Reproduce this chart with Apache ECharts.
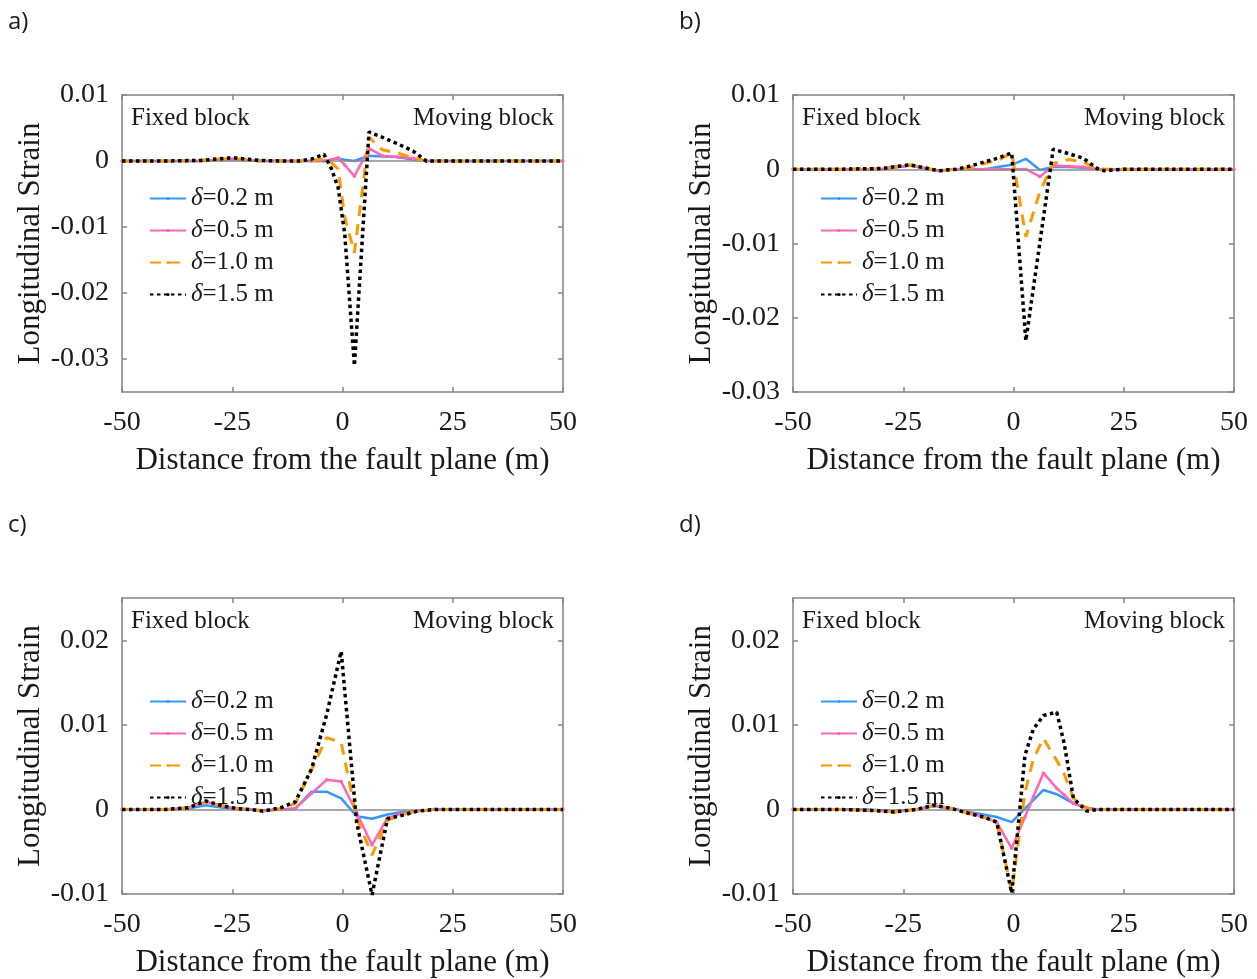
<!DOCTYPE html>
<html>
<head>
<meta charset="utf-8">
<script src="https://cdn.jsdelivr.net/npm/echarts@6/dist/echarts.min.js"></script>
<style>
  html, body { margin: 0; padding: 0; background: #fff; }
  #mychart { width: 1257px; height: 979px; }
</style>
</head>
<body>
<div id="mychart"></div>
<script>
"use strict";
// legend names, one per prescribed fault offset
const offsets = ['δ=0.2 m', 'δ=0.5 m', 'δ=1.0 m', 'δ=1.5 m'];
const xTicks = [-50, -25, 0, 25, 50];

// a) distance (m) and longitudinal strain
const distA = [-50, -40, -32, -25, -19, -14, -10, -7, -4.2, -2.5, -1, 0.5, 2.7, 6, 9, 12.5, 16, 19, 25, 35, 50];
const blueA = [0, 0, 0, 0.0002, 0, 0, 0, 0, 0, 0.0002, 0.0004, 0.0002, 0, 0.0008, 0.0007, 0.0006, 0.0002, 0, 0, 0, 0];
const pinkA = [0, 0, 0, 0.0003, 0, 0, 0, 0, 0, 0.0002, 0.0005, -0.0006, -0.0023, 0.0019, 0.0008, 0.0006, 0.0004, 0, 0, 0, 0];
const orangeA = [0, 0, 0.0001, 0.0004, 0.0001, 0, 0, 0.0001, 0.0003, -0.0003, -0.0012, -0.0085, -0.0139, 0.0036, 0.0017, 0.0012, 0.0005, 0, 0, 0, 0];
const blackA = [0, 0, 0.0001, 0.0005, 0.0001, 0, 0, 0.0003, 0.001, -0.0012, -0.004, -0.011, -0.031, 0.0044, 0.0036, 0.0026, 0.0015, 0, 0, 0, 0];

// b)
const distB = [-50, -40, -30, -23.5, -17, -13, -10, -6.5, -3.5, -0.4, 2.8, 6, 9, 12.5, 15.8, 19, 20.5, 25, 35, 50];
const blueB = [0, 0, 0, 0.0005, -0.0002, 0, 0, 0, 0.0003, 0.0006, 0.0014, -0.0001, 0.0003, 0.0003, 0.0002, 0, 0, 0, 0, 0];
const pinkB = [0, 0, 0, 0.0005, -0.0002, 0, 0, 0, 0, 0, 0, -0.001, 0.0005, 0.0004, 0.0003, 0, 0, 0, 0, 0];
const orangeB = [0, 0, 0.0001, 0.0006, -0.0002, 0, 0.0002, 0.0008, 0.0012, 0.0022, -0.0091, -0.003, 0.0008, 0.0013, 0.001, 0, 0, 0, 0, 0];
const blackB = [0, 0, 0.0001, 0.0006, -0.0002, 0, 0.0004, 0.001, 0.0015, 0.0022, -0.0231, -0.0098, 0.0027, 0.0021, 0.0015, 0.0001, -0.0002, 0, 0, 0];

// c)
const distC = [-50, -40, -35, -31, -27, -24, -21, -18, -14, -10.7, -7, -3.6, -0.3, 3.2, 6.7, 10.2, 13.5, 17, 21, 30, 40, 50];
const blueC = [0, 0, 0.0001, 0.0005, 0.0002, 0.0001, 0, -0.0001, 0, 0.0001, 0.0021, 0.0021, 0.0013, -0.0008, -0.0011, -0.0006, -0.0003, -0.0002, 0, 0, 0, 0];
const pinkC = [0, 0, 0.0002, 0.0009, 0.0004, 0.0001, 0, -0.0002, 0, 0.0001, 0.0019, 0.0035, 0.0033, -0.0004, -0.0042, -0.001, -0.0005, -0.0002, 0, 0, 0, 0];
const orangeC = [0, 0, 0.0002, 0.0009, 0.0004, 0.0001, 0, -0.0002, 0.0001, 0.0007, 0.0047, 0.0085, 0.0079, -0.001, -0.0054, -0.0013, -0.0006, -0.0002, 0, 0, 0, 0];
const blackC = [0, 0, 0.0002, 0.001, 0.0004, 0.0001, 0, -0.0002, 0.0002, 0.0009, 0.0048, 0.0112, 0.0187, -0.0015, -0.0101, -0.0011, -0.0007, -0.0002, 0, 0, 0, 0];

// d)
const distD = [-50, -40, -33, -27, -22, -18, -14, -10, -6.8, -3.8, -0.4, 2.6, 4.5, 6.8, 9.8, 11.5, 13.6, 16.6, 19, 25, 35, 50];
const blueD = [0, 0, 0, -0.0002, 0, 0.0004, 0.0001, -0.0003, -0.0006, -0.0009, -0.0015, 0.0001, 0.0011, 0.0023, 0.0018, 0.0013, 0.0007, 0.0002, 0, 0, 0, 0];
const pinkD = [0, 0, -0.0001, -0.0003, 0, 0.0005, 0.0001, -0.0004, -0.0009, -0.0015, -0.0046, -0.0009, 0.0015, 0.0043, 0.0025, 0.0017, 0.0007, 0.0002, 0, 0, 0, 0];
const orangeD = [0, 0, -0.0001, -0.0003, 0, 0.0005, 0.0001, -0.0005, -0.0009, -0.0015, -0.0097, 0.002, 0.006, 0.0084, 0.0058, 0.0042, 0.0013, 0.0001, 0, 0, 0, 0];
const blackD = [0, 0, -0.0001, -0.0003, 0, 0.0005, 0.0001, -0.0005, -0.0009, -0.0015, -0.0099, 0.0064, 0.0095, 0.0111, 0.0115, 0.0078, 0.0013, -0.0002, 0, 0, 0, 0];

const yTicksA = [-0.03, -0.02, -0.01, 0, 0.01];
const yTicksB = [-0.03, -0.02, -0.01, 0, 0.01];
const yTicksCD = [-0.01, 0, 0.01, 0.02];

const panels = [
    { tag: 'a)', dist: distA, strain: [blueA, pinkA, orangeA, blackA], yMin: -0.035, yMax: 0.01, yTicks: yTicksA, left: 122, top: 95 },
    { tag: 'b)', dist: distB, strain: [blueB, pinkB, orangeB, blackB], yMin: -0.03, yMax: 0.01, yTicks: yTicksB, left: 793, top: 95 },
    { tag: 'c)', dist: distC, strain: [blueC, pinkC, orangeC, blackC], yMin: -0.01, yMax: 0.025, yTicks: yTicksCD, left: 122, top: 598 },
    { tag: 'd)', dist: distD, strain: [blueD, pinkD, orangeD, blackD], yMin: -0.01, yMax: 0.025, yTicks: yTicksCD, left: 793, top: 598 }
];

const SERIF = '"Liberation Serif", "Times New Roman", serif';
const AXIS_COLOR = '#858585';
const TEXT_COLOR = '#1a1a1a';
const PLOT_W = 441;
const PLOT_H = 297;

const lineStyles = [
    { color: '#3399ff', width: 2.5, type: 'solid' },
    { color: '#ff66b3', width: 2.5, type: 'solid' },
    { color: '#ff9900', width: 3, type: [11, 8] },
    { color: '#000000', width: 3.5, type: [3.5, 3.5] }
];

function fmtStrain(v) {
    if (Math.abs(v) < 1e-9) {
        return '0';
    }
    return v.toFixed(2);
}

const grid = [];
const xAxis = [];
const yAxis = [];
const series = [];
const legend = [];
const graphic = [];

panels.forEach((p, k) => {
    grid.push({ left: p.left, top: p.top, width: PLOT_W, height: PLOT_H });
    const axisLine = () => ({ show: true, onZero: false, lineStyle: { color: AXIS_COLOR, width: 1.5 } });
    const tick = { show: true, inside: true, length: 5, lineStyle: { color: AXIS_COLOR, width: 1.5 } };
    xAxis.push({
        type: 'value', gridIndex: k, min: -50, max: 50, interval: 25, position: 'bottom',
        name: 'Distance from the fault plane (m)', nameLocation: 'middle', nameGap: 53,
        nameTextStyle: { fontFamily: SERIF, fontSize: 31, color: TEXT_COLOR },
        axisLine: axisLine(), axisTick: tick, splitLine: { show: false },
        axisLabel: { margin: 17, fontFamily: SERIF, fontSize: 28, color: TEXT_COLOR }
    });
    xAxis.push({
        type: 'value', gridIndex: k, min: -50, max: 50, interval: 25, position: 'top',
        axisLine: axisLine(), axisTick: tick, splitLine: { show: false }, axisLabel: { show: false }
    });
    yAxis.push({
        type: 'value', gridIndex: k, min: p.yMin, max: p.yMax, position: 'left',
        name: 'Longitudinal Strain', nameLocation: 'middle', nameGap: 66,
        nameTextStyle: { fontFamily: SERIF, fontSize: 31, color: TEXT_COLOR },
        axisLine: axisLine(), splitLine: { show: false },
        axisTick: Object.assign({ customValues: p.yTicks }, tick),
        axisLabel: {
            customValues: p.yTicks, formatter: fmtStrain, margin: 13, padding: [5, 0, 0, 0],
            fontFamily: SERIF, fontSize: 28, color: TEXT_COLOR
        }
    });
    yAxis.push({
        type: 'value', gridIndex: k, min: p.yMin, max: p.yMax, position: 'right',
        axisLine: axisLine(), splitLine: { show: false },
        axisTick: Object.assign({ customValues: p.yTicks }, tick),
        axisLabel: { show: false, customValues: p.yTicks }
    });
    p.strain.forEach((vals, s) => {
        const item = {
            name: offsets[s],
            type: 'line',
            xAxisIndex: 2 * k,
            yAxisIndex: 2 * k,
            data: p.dist.map((x, i) => [x, vals[i]]),
            symbol: s === 1 ? 'circle' : 'none',
            symbolSize: 3.5,
            showSymbol: s === 1,
            itemStyle: { color: lineStyles[s].color },
            lineStyle: lineStyles[s],
            silent: true,
            animation: false,
            z: 3 + s
        };
        if (s === 0) {
            item.markLine = {
                silent: true, symbol: 'none', animation: false,
                label: { show: false },
                lineStyle: { color: '#8c8c8c', width: 1.5, type: 'solid' },
                data: [{ yAxis: 0 }]
            };
        }
        series.push(item);
    });
    legend.push({
        data: offsets,
        orient: 'vertical',
        left: p.left + 22,
        top: p.top + 86,
        itemWidth: 36,
        itemHeight: 4,
        itemGap: 7,
        selectedMode: false,
        formatter: name => '{d|δ}' + name.slice(1),
        textStyle: {
            fontFamily: SERIF, fontSize: 25, color: TEXT_COLOR, lineHeight: 24,
            rich: { d: { fontFamily: SERIF, fontSize: 25, fontStyle: 'italic', color: TEXT_COLOR, lineHeight: 24 } }
        }
    });
    graphic.push({
        type: 'text', left: p.left + 9, top: p.top + 11,
        style: { text: 'Fixed block', font: '25px ' + SERIF, fill: TEXT_COLOR }
    });
    graphic.push({
        type: 'text', right: 1257 - (p.left + PLOT_W - 9), top: p.top + 11,
        style: { text: 'Moving block', font: '25px ' + SERIF, fill: TEXT_COLOR }
    });
    graphic.push({
        type: 'text', left: p.left < 400 ? 8 : 679, top: p.top < 400 ? 10 : 513,
        style: { text: p.tag, font: '24px "Open Sans", "Noto Sans", sans-serif', fill: TEXT_COLOR }
    });
});

const chart = echarts.init(document.getElementById('mychart'));
chart.setOption({
    backgroundColor: '#ffffff',
    animation: false,
    grid, xAxis, yAxis, series, legend, graphic
});
</script>
</body>
</html>
